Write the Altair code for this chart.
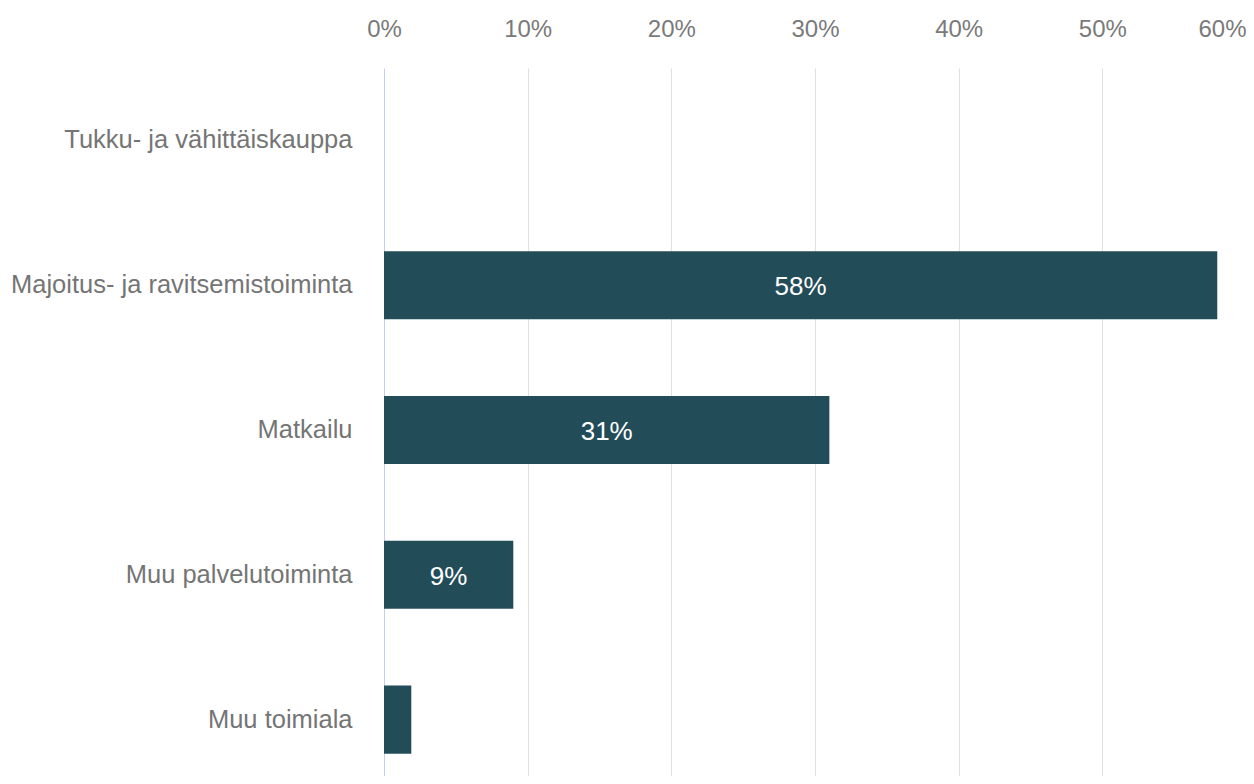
import altair as alt
import pandas as pd

categories = [
    "Tukku- ja vähittäiskauppa",
    "Majoitus- ja ravitsemistoiminta",
    "Matkailu",
    "Muu palvelutoiminta",
    "Muu toimiala",
]
values = [0.0, 0.58, 0.31, 0.09, 0.019]
tick_values = [0.0, 0.1, 0.2, 0.3, 0.4, 0.5, 0.6]

df = pd.DataFrame({"cat": categories, "val": values})

FONT = "Liberation Sans"
BAR = "#234c59"

y_scale = alt.Scale(paddingInner=0.53, paddingOuter=0.265, range=[0, 724])
x_scale = alt.Scale(domain=[0, 0.6], nice=False)

y_axis = alt.Axis(
    domain=False, ticks=False, tickSize=0, labelPadding=32,
    labelFontSize=25.5, labelColor="#757575", labelFont=FONT, labelLimit=600,
    grid=False,
)
x_axis = alt.Axis(
    orient="top", values=tick_values, format=".0%",
    domain=False, ticks=False, tickSize=0, labelPadding=27,
    labelFontSize=24, labelColor="#7a7a7a", labelFont=FONT,
    grid=True, gridWidth=1,
    gridColor={"condition": {"test": "datum.value === 0", "value": "#c3cfeb"}, "value": "#e0e0e0"},
    labelAlign={"condition": {"test": "datum.value >= 0.59", "value": "right"}, "value": "center"},
)

bars = alt.Chart(df).mark_bar(color=BAR).encode(
    x=alt.X("val:Q", title=None, scale=x_scale, axis=x_axis),
    y=alt.Y("cat:N", sort=categories, title=None, scale=y_scale, axis=y_axis),
)

text = (
    alt.Chart(df)
    .transform_filter("datum.val >= 0.05")
    .transform_calculate(mid="datum.val / 2")
    .mark_text(color="white", fontSize=26, font=FONT, fontWeight=500,
               baseline="middle", align="center", dy=2)
    .encode(
        x=alt.X("mid:Q", title=None, scale=x_scale, axis=x_axis),
        y=alt.Y("cat:N", sort=categories, title=None, scale=y_scale, axis=y_axis),
        text=alt.Text("val:Q", format=".0%"),
    )
)

chart = (
    alt.layer(bars, text)
    .properties(
        width=862,
        height=708,
        autosize=alt.AutoSizeParams(type="none"),
        padding={"left": 376, "top": 60, "right": 0, "bottom": 0},
        view=alt.ViewBackground(stroke="transparent", strokeWidth=0, fill="white"),
    )
    .configure_view(stroke="transparent", strokeWidth=0)
    .configure_axis(domain=False, ticks=False)
    .configure(background="white")
)

chart.save("out.html", embed_options={"renderer": "svg", "actions": False})
